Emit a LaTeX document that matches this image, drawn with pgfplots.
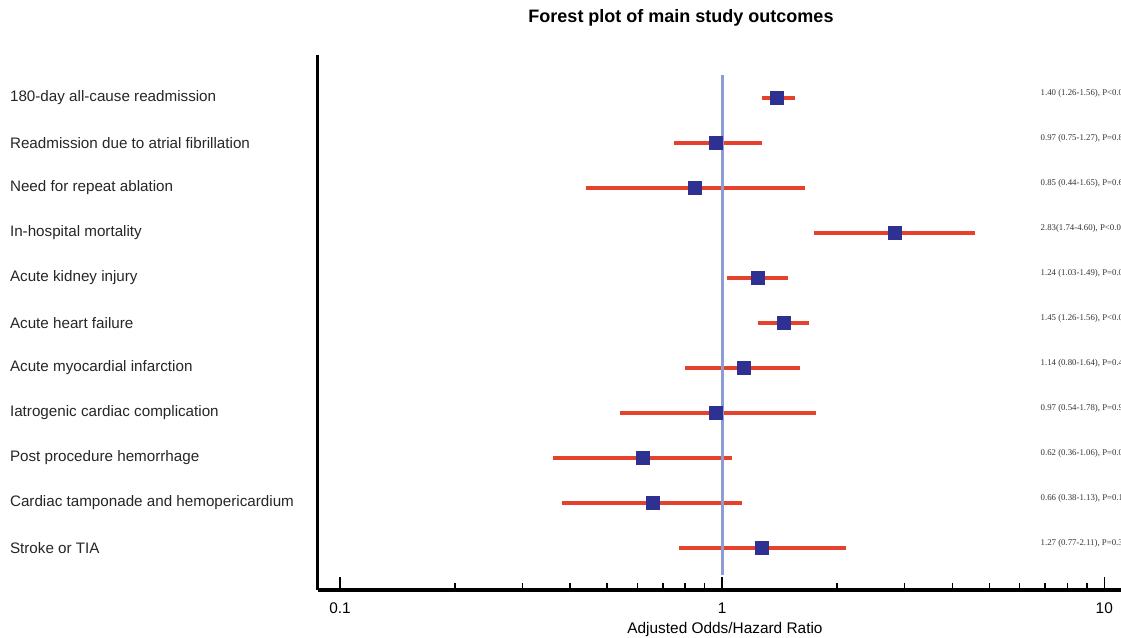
\documentclass[border=0pt]{standalone}
\usepackage{fontspec}
\setmainfont{Liberation Sans}
\newfontfamily\annotfont{Liberation Serif}
\usepackage{pgfplots}
\pgfplotsset{compat=1.18}

\definecolor{cired}{HTML}{E5412D}
\definecolor{sqblue}{HTML}{2E3192}
\definecolor{refblue}{HTML}{8E9CD6}
\definecolor{annot}{HTML}{333333}

\begin{document}
\begin{tikzpicture}
\begin{axis}[
    at={(0,0)}, anchor=south west,
    scale only axis,
    width=411pt, height=267.5pt,
    xmode=log,
    xmin=0.0876, xmax=12.4,
    ymin=0.067, ymax=11.956,
    axis x line=bottom, axis y line=left,
    axis line style={-, line width=1.5pt, black},
    clip=false,
    xtick={0.1,1,10},
    xticklabels={0.1,1,10},
    minor xtick={0.2,0.3,0.4,0.5,0.6,0.7,0.8,0.9,2,3,4,5,6,7,8,9},
    tick align=inside,
    major tick length=6.5pt,
    minor tick length=3.5pt,
    every tick/.style={black, line width=0.7pt},
    xticklabel style={font=\fontsize{7.7}{9}\selectfont, yshift=-3pt},
    ytick={1,2,3,4,5,6,7,8,9,10,11},
    yticklabels={Stroke or TIA,
                 Cardiac tamponade and hemopericardium,
                 Post procedure hemorrhage,
                 Iatrogenic cardiac complication,
                 Acute myocardial infarction,
                 Acute heart failure,
                 Acute kidney injury,
                 In-hospital mortality,
                 Need for repeat ablation,
                 Readmission due to atrial fibrillation,
                 180-day all-cause readmission},
    major y tick style={draw=none},
    yticklabel style={anchor=west, xshift=-157.5pt,
                      font=\fontsize{7.6}{9}\selectfont, text=black!85},
    xlabel={Adjusted Odds/Hazard Ratio},
    xlabel style={font=\fontsize{7.7}{9}\selectfont, yshift=2.5pt, xshift=-2pt},
]
% confidence intervals
\addplot[cired, line width=1.6pt] coordinates {(1.27,11) (1.55,11)};
\addplot[cired, line width=1.6pt] coordinates {(0.75,10) (1.27,10)};
\addplot[cired, line width=1.6pt] coordinates {(0.44,9) (1.65,9)};
\addplot[cired, line width=1.6pt] coordinates {(1.74,8) (4.60,8)};
\addplot[cired, line width=1.6pt] coordinates {(1.03,7) (1.49,7)};
\addplot[cired, line width=1.6pt] coordinates {(1.24,6) (1.69,6)};
\addplot[cired, line width=1.6pt] coordinates {(0.80,5) (1.60,5)};
\addplot[cired, line width=1.6pt] coordinates {(0.54,4) (1.76,4)};
\addplot[cired, line width=1.6pt] coordinates {(0.36,3) (1.06,3)};
\addplot[cired, line width=1.6pt] coordinates {(0.38,2) (1.13,2)};
\addplot[cired, line width=1.6pt] coordinates {(0.77,1) (2.11,1)};
% line of no effect
\addplot[refblue, line width=1.5pt] coordinates {(1,0.4) (1,11.51)};
% point estimates
\addplot[only marks, mark=square*, mark size=3.2pt, sqblue] coordinates {
  (1.39,11) (0.965,10) (0.85,9) (2.83,8) (1.24,7) (1.45,6)
  (1.14,5) (0.965,4) (0.62,3) (0.66,2) (1.27,1)};
% estimates as text (cut by the right edge, as in the original)
\begin{scope}[every node/.style={anchor=west, text=annot, inner sep=0pt,
    yshift=2.5pt, font=\annotfont\fontsize{4.4}{5}\selectfont}]
\node at (axis cs:6.8,11) {1.40 (1.26-1.56), P<0.001};
\node at (axis cs:6.8,10) {0.97 (0.75-1.27), P=0.81};
\node at (axis cs:6.8,9)  {0.85 (0.44-1.65), P=0.63};
\node at (axis cs:6.8,8)  {2.83(1.74-4.60), P<0.001};
\node at (axis cs:6.8,7)  {1.24 (1.03-1.49), P=0.02};
\node at (axis cs:6.8,6)  {1.45 (1.26-1.56), P<0.001};
\node at (axis cs:6.8,5)  {1.14 (0.80-1.64), P=0.47};
\node at (axis cs:6.8,4)  {0.97 (0.54-1.78), P=0.92};
\node at (axis cs:6.8,3)  {0.62 (0.36-1.06), P=0.08};
\node at (axis cs:6.8,2)  {0.66 (0.38-1.13), P=0.13};
\node at (axis cs:6.8,1)  {1.27 (0.77-2.11), P=0.35};
\end{scope}
\end{axis}
\node[font=\bfseries\fontsize{9}{11}\selectfont] at (181.5pt,286pt)
  {Forest plot of main study outcomes};
\pgfresetboundingbox
\useasboundingbox (-159pt,-24pt) rectangle (401.5pt,295pt);
\end{tikzpicture}
\end{document}
